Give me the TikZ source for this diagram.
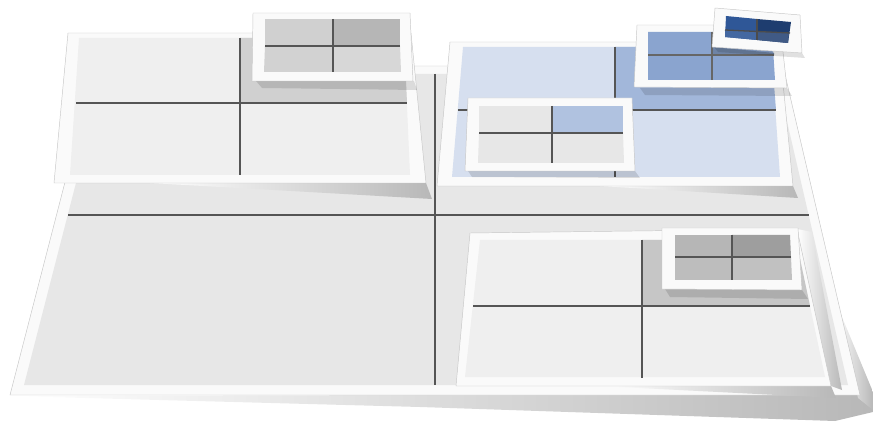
\documentclass[tikz,border=0pt]{standalone}
\usetikzlibrary{calc}
\usepackage{xcolor}
\definecolor{plateColor}{RGB}{250,250,250}
\definecolor{baseColor}{RGB}{231,231,231}
\definecolor{paleColor}{RGB}{239,239,239}
\definecolor{greyA}{RGB}{208,208,208}
\definecolor{greyB}{RGB}{182,182,182}
\definecolor{greyC}{RGB}{158,158,158}
\definecolor{skyColor}{RGB}{214,223,239}
\definecolor{skyDark}{RGB}{162,183,218}
\definecolor{midBlue}{RGB}{138,164,207}
\definecolor{deepBlue}{RGB}{47,87,151}
\definecolor{deepBlueDark}{RGB}{30,61,111}
\definecolor{lineColor}{RGB}{85,85,85}

\begin{document}
\begin{tikzpicture}[
    x=0.03cm, y=-0.03cm,
    plate/.style={fill=plateColor, draw=black!22, line width=0.4pt},
    divider/.style={draw=lineColor, line width=1.1pt},
    shadow/.style={left color=white, right color=black!28, draw=none},
    dropshadow/.style={fill=black, opacity=0.12, draw=none}
  ]
  \useasboundingbox (0,0) rectangle (873,431);

  % base plate
  \shade[shadow] (10,396) -- (860,394) -- (873,399) -- (873,412) -- (835,421) -- (420,407) -- cycle;
  \shade[shadow] (835,300) -- (873,392) -- (873,410) -- (858,398) -- cycle;
  \filldraw[plate] (95,66) -- (783,66) -- (860,395) -- (10,395) -- cycle;
  \fill[baseColor] (104,74) -- (776,74) -- (848,385) -- (24,385) -- cycle;
  \draw[divider] (68,215) -- (809,215);
  \draw[divider] (435,74) -- (435,385);

  % upper left
  \shade[shadow] (150,183) -- (426,183) -- (432,199) -- cycle;
  \filldraw[plate] (68,33) -- (411,33) -- (426,183) -- (54,183) -- cycle;
  \fill[paleColor] (79,38) -- (404,38) -- (410,175) -- (70,175) -- cycle;
  \fill[greyA] (240,38) -- (404,38) -- (407,103) -- (240,103) -- cycle;
  \draw[divider] (76,103) -- (407,103);
  \draw[divider] (240,38) -- (240,175);

  \fill[dropshadow] (256,81) -- (414,81) -- (417,90) -- (262,88) -- cycle;
  \filldraw[plate] (253,13) -- (410,13) -- (413,81) -- (252,81) -- cycle;
  \fill[greyA] (265,19) -- (333,19) -- (333,46) -- (265,46) -- cycle;
  \fill[greyB] (333,19) -- (400,19) -- (400,46) -- (333,46) -- cycle;
  \fill[greyA!95] (265,46) -- (333,46) -- (333,72) -- (264,72) -- cycle;
  \fill[greyA!85] (333,46) -- (400,46) -- (401,72) -- (333,72) -- cycle;
  \draw[divider] (265,46) -- (400,46);
  \draw[divider] (333,19) -- (333,72);

  % upper right
  \shade[shadow] (600,186) -- (793,186) -- (798,198) -- cycle;
  \filldraw[plate] (450,42) -- (779,42) -- (793,186) -- (437,186) -- cycle;
  \fill[skyColor] (463,47) -- (771,47) -- (780,177) -- (452,177) -- cycle;
  \fill[skyDark] (615,47) -- (771,47) -- (776,110) -- (615,110) -- cycle;
  \draw[divider] (458,110) -- (776,110);
  \draw[divider] (615,47) -- (615,177);

  \fill[dropshadow] (468,171) -- (635,171) -- (640,178) -- (472,177) -- cycle;
  \filldraw[plate] (468,98) -- (632,98) -- (635,171) -- (465,171) -- cycle;
  \fill[baseColor] (479,106) -- (552,106) -- (552,133) -- (479,133) -- cycle;
  \fill[skyDark!85] (552,106) -- (623,106) -- (623,133) -- (552,133) -- cycle;
  \fill[baseColor] (479,133) -- (552,133) -- (552,163) -- (478,163) -- cycle;
  \fill[baseColor] (552,133) -- (623,133) -- (624,163) -- (552,163) -- cycle;
  \draw[divider] (479,133) -- (623,133);
  \draw[divider] (552,106) -- (552,163);

  \fill[dropshadow] (640,88) -- (787,88) -- (792,96) -- (645,95) -- cycle;
  \filldraw[plate] (637,25) -- (780,25) -- (787,88) -- (634,87) -- cycle;
  \fill[midBlue] (648,32) -- (772,32) -- (775,80) -- (648,80) -- cycle;
  \fill[midBlue!80!black] (712,47) -- (774,53) -- (774,55) -- (712,55) -- cycle;
  \draw[divider, draw=black!60] (648,55) -- (774,55);
  \draw[divider, draw=black!60] (712,32) -- (712,80);

  \fill[dropshadow] (714,47) -- (802,53) -- (805,58) -- (718,52) -- cycle;
  \filldraw[plate] (715,8) -- (800,15) -- (802,53) -- (712,47) -- cycle;
  \fill[deepBlue] (726,16) -- (757,19) -- (757,40) -- (725,37) -- cycle;
  \fill[deepBlueDark] (757,19) -- (791,22) -- (788,43) -- (757,40) -- cycle;
  \fill[deepBlue!90!white] (725,30) -- (757,31.5) -- (757,40) -- (725,37) -- cycle;
  \fill[deepBlueDark!85!white] (757,31.5) -- (789,33) -- (788,43) -- (757,40) -- cycle;
  \draw[divider, draw=black!70] (725,30) -- (790,33);
  \draw[divider, draw=black!70] (757,19) -- (757,40);

  % lower right
  \shade[shadow] (600,386) -- (831,386) -- (836,398) -- cycle;
  \shade[shadow] (797,229) -- (831,386) -- (842,390) -- (812,232) -- cycle;
  \filldraw[plate] (470,233) -- (797,229) -- (831,386) -- (456,386) -- cycle;
  \fill[paleColor] (480,240) -- (796,240) -- (825,377) -- (465,377) -- cycle;
  \fill[greyA!95!black] (642,240) -- (796,240) -- (810,306) -- (642,306) -- cycle;
  \draw[divider] (473,306) -- (810,306);
  \draw[divider] (642,240) -- (642,378);

  \fill[dropshadow] (665,289) -- (802,290) -- (808,299) -- (670,297) -- cycle;
  \filldraw[plate] (662,228) -- (798,228) -- (802,290) -- (662,289) -- cycle;
  \fill[greyB] (675,235) -- (732,235) -- (732,257) -- (675,257) -- cycle;
  \fill[greyC] (732,235) -- (790,235) -- (791,257) -- (732,257) -- cycle;
  \fill[greyB!90] (675,257) -- (732,257) -- (732,280) -- (675,280) -- cycle;
  \fill[greyB!85] (732,257) -- (791,257) -- (792,280) -- (732,280) -- cycle;
  \draw[divider] (675,257) -- (791,257);
  \draw[divider] (732,235) -- (732,280);
\end{tikzpicture}
\end{document}
